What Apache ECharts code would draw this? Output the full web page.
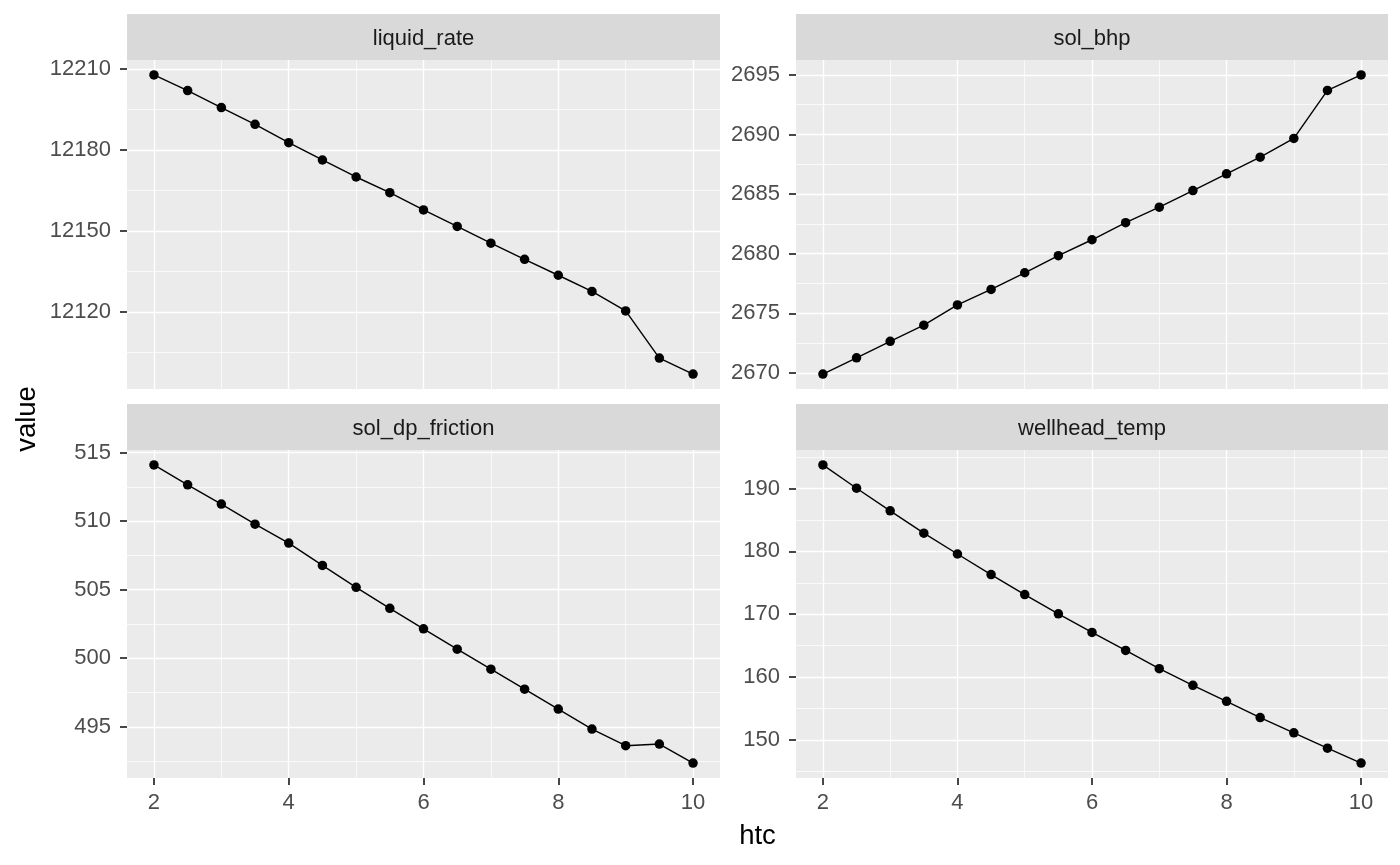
<!DOCTYPE html>
<html><head><meta charset="utf-8">
<script src="https://cdn.jsdelivr.net/npm/echarts@6/dist/echarts.min.js"></script>
<style>html,body{margin:0;padding:0;background:#fff}#c{width:1400px;height:865px}</style>
</head><body><div id="c"></div>
<script>
// ---- data ----
const htc = [2, 2.5, 3, 3.5, 4, 4.5, 5, 5.5, 6, 6.5, 7, 7.5, 8, 8.5, 9, 9.5, 10];
const liquidRate = [12207.8, 12202.0, 12195.7, 12189.5, 12182.7, 12176.3, 12170.0, 12164.2, 12157.8, 12151.7, 12145.5, 12139.5, 12133.6, 12127.6, 12120.4, 12102.9, 12097.0];
const solBhp = [2669.9, 2671.26, 2672.65, 2674.0, 2675.7, 2677.0, 2678.4, 2679.83, 2681.17, 2682.6, 2683.9, 2685.3, 2686.7, 2688.1, 2689.67, 2693.7, 2695.0];
const solDpFriction = [514.1, 512.65, 511.24, 509.78, 508.4, 506.77, 505.17, 503.64, 502.14, 500.66, 499.2, 497.74, 496.29, 494.83, 493.62, 493.74, 492.35];
const wellheadTemp = [193.76, 190.05, 186.45, 182.9, 179.58, 176.3, 173.12, 170.05, 167.09, 164.23, 161.32, 158.68, 156.14, 153.54, 151.11, 148.68, 146.3];
const facetNames = ['liquid_rate', 'sol_bhp', 'sol_dp_friction', 'wellhead_temp'];
const xTicks = [2, 4, 6, 8, 10];
const liquidRateTicks = [12120, 12150, 12180, 12210];
const solBhpTicks = [2670, 2675, 2680, 2685, 2690, 2695];
const solDpFrictionTicks = [495, 500, 505, 510, 515];
const wellheadTempTicks = [150, 160, 170, 180, 190];
const xTitle = 'htc';
const yTitle = 'value';

// ---- layout / style ----
const FONT = '"Liberation Sans", Arial, sans-serif';
const TICK_COLOR = '#333333';
const panels = [
  { left: 127, top: 60, width: 593, height: 329 },
  { left: 796, top: 60, width: 592, height: 329 },
  { left: 127, top: 450, width: 593, height: 328 },
  { left: 796, top: 450, width: 592, height: 328 }
];
const stripH = 46;
const seriesVals = [liquidRate, solBhp, solDpFriction, wellheadTemp];
const yTickSets = [liquidRateTicks, solBhpTicks, solDpFrictionTicks, wellheadTempTicks];

function expandRange(arr) {
  const mn = Math.min(...arr), mx = Math.max(...arr);
  const r = mx - mn;
  return [mn - 0.05 * r, mx + 0.05 * r];
}
function stepOf(t) { return t[1] - t[0]; }
const plain = v => String(v);

const xr = expandRange(htc);
const grids = [], xAxes = [], yAxes = [], series = [], graphics = [];

panels.forEach((p, i) => {
  grids.push({
    left: p.left, top: p.top, width: p.width, height: p.height,
    show: true, backgroundColor: '#EBEBEB', borderWidth: 0
  });
  const bottomRow = i >= 2;
  xAxes.push({
    type: 'value', gridIndex: i, min: xr[0], max: xr[1],
    minInterval: 2, maxInterval: 2,
    axisLine: { show: false },
    axisTick: { show: bottomRow, length: 7, lineStyle: { color: TICK_COLOR, width: 1.8 }, customValues: xTicks },
    axisLabel: { show: bottomRow, customValues: xTicks, formatter: plain, margin: 14, color: '#4D4D4D', fontSize: 22, fontFamily: FONT },
    splitLine: { show: true, lineStyle: { color: '#FFFFFF', width: 1.4 } },
    minorSplitLine: { show: true, lineStyle: { color: '#FFFFFF', width: 0.7 } },
    minorTick: { show: false, splitNumber: 2 }
  });
  const yr = expandRange(seriesVals[i]);
  const st = stepOf(yTickSets[i]);
  yAxes.push({
    type: 'value', gridIndex: i, min: yr[0], max: yr[1],
    minInterval: st, maxInterval: st,
    axisLine: { show: false },
    axisTick: { show: true, length: 7, lineStyle: { color: TICK_COLOR, width: 1.8 }, customValues: yTickSets[i] },
    axisLabel: { customValues: yTickSets[i], formatter: plain, margin: 16, color: '#4D4D4D', fontSize: 22, fontFamily: FONT },
    splitLine: { show: true, lineStyle: { color: '#FFFFFF', width: 1.4 } },
    minorSplitLine: { show: true, lineStyle: { color: '#FFFFFF', width: 0.7 } },
    minorTick: { show: false, splitNumber: 2 }
  });
  series.push({
    type: 'line', xAxisIndex: i, yAxisIndex: i,
    data: htc.map((x, k) => [x, seriesVals[i][k]]),
    symbol: 'circle', symbolSize: 9.5, showSymbol: true,
    lineStyle: { color: '#000000', width: 1.4 },
    itemStyle: { color: '#000000' },
    emphasis: { disabled: true }, animation: false, clip: false
  });
  graphics.push({
    type: 'rect', shape: { x: p.left, y: p.top - stripH, width: p.width, height: stripH },
    style: { fill: '#D9D9D9' }, silent: true
  });
  graphics.push({
    type: 'text', x: p.left + p.width / 2, y: p.top - stripH / 2 + 1.5,
    style: { text: facetNames[i], fill: '#1A1A1A', font: '22px ' + FONT,
      align: 'center', verticalAlign: 'middle', textAlign: 'center', textVerticalAlign: 'middle' },
    silent: true
  });
});

graphics.push({
  type: 'text', x: (panels[0].left + panels[1].left + panels[1].width) / 2, y: 836,
  style: { text: xTitle, fill: '#000000', font: '27.5px ' + FONT,
    align: 'center', verticalAlign: 'middle', textAlign: 'center', textVerticalAlign: 'middle' },
  silent: true
});
graphics.push({
  type: 'text', x: 27, y: (panels[0].top + panels[2].top + panels[2].height) / 2, rotation: Math.PI / 2,
  style: { text: yTitle, fill: '#000000', font: '27.5px ' + FONT,
    align: 'center', verticalAlign: 'middle', textAlign: 'center', textVerticalAlign: 'middle' },
  silent: true
});

const chart = echarts.init(document.getElementById('c'), null, { renderer: 'canvas' });
chart.setOption({
  backgroundColor: '#FFFFFF',
  animation: false,
  grid: grids, xAxis: xAxes, yAxis: yAxes, series: series,
  graphic: graphics
});
</script>
</body></html>
